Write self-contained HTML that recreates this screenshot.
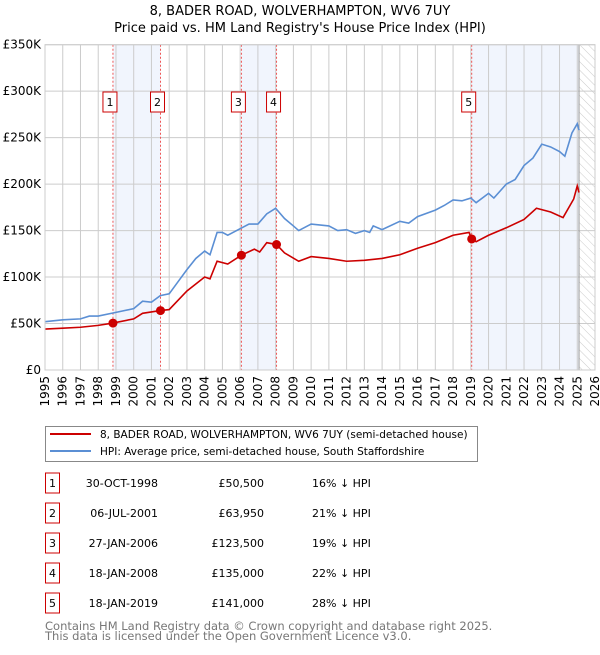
<!DOCTYPE html>
<html><head><meta charset="utf-8"><style>
body{margin:0;background:#fff;font-family:"Liberation Sans","DejaVu Sans",sans-serif;}
svg text{font-family:"DejaVu Sans","Liberation Sans",sans-serif;}
</style></head><body>
<svg id="c" width="600" height="650" xmlns="http://www.w3.org/2000/svg">
<defs><pattern id="hatch" width="6" height="6" patternUnits="userSpaceOnUse" patternTransform="rotate(-45)"><line x1="0" y1="0" x2="0" y2="6" stroke="#ccc" stroke-width="1"/></pattern></defs>
<text x="300" y="15" text-anchor="middle" font-size="13">8, BADER ROAD, WOLVERHAMPTON, WV6 7UY</text>
<text x="300" y="32" text-anchor="middle" font-size="13">Price paid vs. HM Land Registry's House Price Index (HPI)</text>
<g id="plot"></g>
<g>
<rect x="45.5" y="426.5" width="432" height="35" fill="#fff" stroke="#888"/>
<line x1="50" y1="434" x2="91" y2="434" stroke="#cc0000" stroke-width="2"/>
<text x="100" y="438" font-size="10.5">8, BADER ROAD, WOLVERHAMPTON, WV6 7UY (semi-detached house)</text>
<line x1="50" y1="451" x2="91" y2="451" stroke="#5b8fd4" stroke-width="2"/>
<text x="100" y="455" font-size="10.5">HPI: Average price, semi-detached house, South Staffordshire</text>
</g>
<g id="table" font-size="11"></g>
<text x="45" y="630" font-size="11.5" fill="#777">Contains HM Land Registry data © Crown copyright and database right 2025.</text>
<text x="45" y="640" font-size="11.5" fill="#777">This data is licensed under the Open Government Licence v3.0.</text>
</svg>
<script>
const hpiYears=[1995,1996,1997,1997.5,1998,1999,2000,2000.5,2001,2001.5,2002,2002.5,2003,2003.5,2004,2004.3,2004.7,2005,2005.3,2006,2006.5,2007,2007.5,2008,2008.5,2009,2009.3,2010,2011,2011.5,2012,2012.5,2013,2013.3,2013.5,2014,2015,2015.5,2016,2017,2017.5,2018,2018.5,2019,2019.3,2020,2020.3,2021,2021.5,2022,2022.5,2023,2023.5,2024,2024.3,2024.7,2025,2025.1];
const hpiValues=[52,54,55,58,58,62,66,74,73,80,82,95,108,120,128,124,148,148,145,152,157,157,168,174,163,155,150,157,155,150,151,147,150,148,155,151,160,158,165,172,177,183,182,185,180,190,185,200,205,220,228,243,240,235,230,255,265,258];
const ppYears=[1995,1996,1997,1998,1998.83,2000,2000.5,2001.5,2002,2003,2004,2004.3,2004.7,2005.3,2006.07,2006.8,2007.1,2007.5,2008.05,2008.5,2009.3,2010,2011,2012,2013,2014,2015,2016,2017,2018,2018.9,2019.05,2019.3,2020,2021,2022,2022.7,2023.5,2024.2,2024.8,2025,2025.1];
const ppValues=[44,45,46,48,50.5,55,61,63.95,65,85,100,98,117,114,123.5,130,127,137,135,126,117,122,120,117,118,120,124,131,137,145,148,141,138,145,153,162,174,170,164,184,198,191];
const saleYears=[1998.83,2001.51,2006.07,2008.05,2019.05];
const salePrices=[50.5,63.95,123.5,135,141];
const saleLabels=["1","2","3","4","5"];
const saleDates=["30-OCT-1998","06-JUL-2001","27-JAN-2006","18-JAN-2008","18-JAN-2019"];
const salePriceText=["£50,500","£63,950","£123,500","£135,000","£141,000"];
const salePct=["16% ↓ HPI","21% ↓ HPI","19% ↓ HPI","22% ↓ HPI","28% ↓ HPI"];
const yTicks=[0,50,100,150,200,250,300,350];
const yTickLabels=["£0","£50K","£100K","£150K","£200K","£250K","£300K","£350K"];
const xTicks=[1995,1996,1997,1998,1999,2000,2001,2002,2003,2004,2005,2006,2007,2008,2009,2010,2011,2012,2013,2014,2015,2016,2017,2018,2019,2020,2021,2022,2023,2024,2025,2026];

const NS="http://www.w3.org/2000/svg";
const L=45,R=595,T=44.7,B=370;
const x=y=>L+(y-1995)*(R-L)/31;
const yv=v=>B-v*(B-T)/350;
function mk(tag,attrs,parent){const e=document.createElementNS(NS,tag);for(const k in attrs)e.setAttribute(k,attrs[k]);parent.appendChild(e);return e;}
const g=document.getElementById('plot');
for(const [a,b] of [[saleYears[0],saleYears[1]],[saleYears[2],saleYears[3]],[saleYears[4],2025.1]]){
 const r=mk('rect',{x:x(a),y:T,width:x(b)-x(a),height:B-T,fill:'#eef3fc',opacity:0.8},g);
 
 
}
const h=mk('rect',{x:x(2025.1),y:T,width:R-x(2025.1),height:B-T,fill:'url(#hatch)'},g);


xTicks.forEach(t=>{
 mk('line',{x1:x(t),x2:x(t),y1:T,y2:B,stroke:'#ccc','stroke-width':1},g);
 const tx=mk('text',{x:0,y:0,'font-size':12,'text-anchor':'end',transform:`translate(${x(t)+4},${B+6}) rotate(-90)`},g);
 tx.textContent=t;
 
 
});
yTicks.forEach((t,i)=>{
 mk('line',{x1:L,x2:R,y1:yv(t),y2:yv(t),stroke:'#ccc','stroke-width':1},g);
 const tx=mk('text',{x:L-4,y:yv(t)+4,'font-size':12,'text-anchor':'end'},g);
 tx.textContent=yTickLabels[i];
 
 
});
mk('line',{x1:x(2025.1),x2:x(2025.1),y1:T,y2:B,stroke:'#999','stroke-width':1},g);
saleYears.forEach((s,i)=>{
 mk('line',{x1:x(s),x2:x(s),y1:T,y2:B,stroke:'#e55','stroke-width':1,'stroke-dasharray':'2,2'},g);
 const bxx=x(s)-10;
 const rb=mk('rect',{x:bxx,y:92,width:14,height:20,fill:'#fff',stroke:'#c00'},g);
 
 
 const tl=mk('text',{x:bxx+7,y:106,'font-size':11,'text-anchor':'middle'},g);
 tl.textContent=saleLabels[i];
});
function line(xs,vs,col,name){
 const p=mk('polyline',{points:xs.map((a,i)=>x(a)+','+yv(vs[i])).join(' '),fill:'none',stroke:col,'stroke-width':1.6},g);
 
 
}
line(hpiYears,hpiValues,'#5b8fd4','hpi-line');
line(ppYears,ppValues,'#cc0000','price-paid-line');
saleYears.forEach((s,i)=>{
 const d=mk('circle',{cx:x(s),cy:yv(salePrices[i]),r:4.5,fill:'#cc0000'},g);
 
 
});
mk('rect',{x:L,y:T,width:R-L,height:B-T,fill:'none',stroke:'#ccc'},g);
const tb=document.getElementById('table');
saleLabels.forEach((lab,i)=>{
 const cy=483+i*30;
 const r=mk('rect',{x:45.5,y:cy-10,width:14,height:20,fill:'#fff',stroke:'#c00'},tb);
 
 
 const a=mk('text',{x:52.5,y:cy+4,'text-anchor':'middle'},tb);a.textContent=lab;
 const d=mk('text',{x:158,y:cy+4,'text-anchor':'end'},tb);d.textContent=saleDates[i];
 
 
 const p=mk('text',{x:264,y:cy+4,'text-anchor':'end'},tb);p.textContent=salePriceText[i];
 
 
 const q=mk('text',{x:312,y:cy+4},tb);q.textContent=salePct[i];
 
 
});
</script>
</body></html>
